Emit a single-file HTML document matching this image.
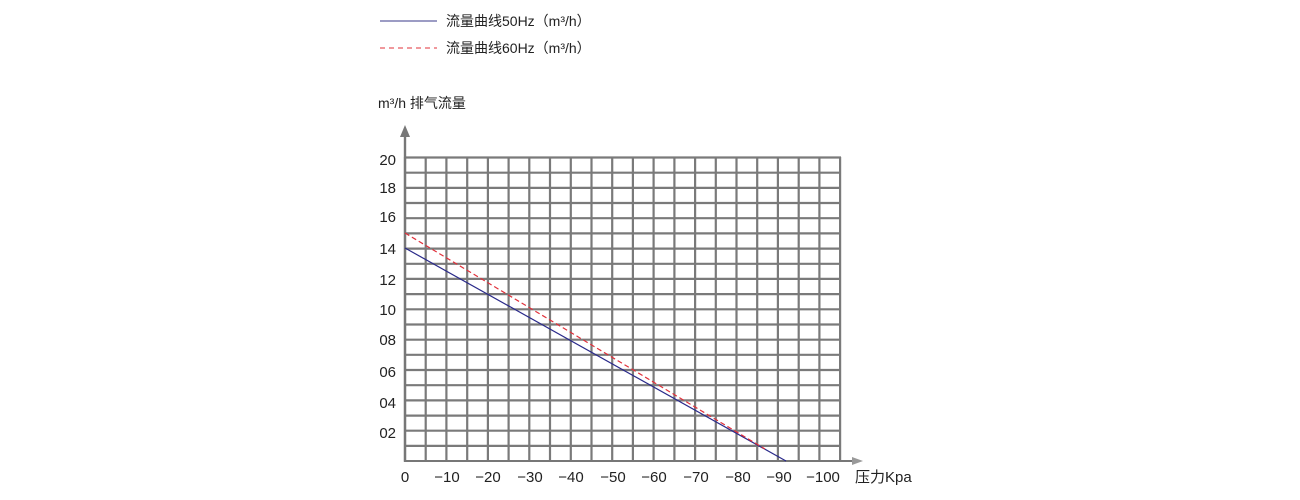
<!DOCTYPE html><html><head><meta charset="utf-8"><style>body{margin:0;background:#fff}svg{display:block}text{font-family:"Liberation Sans","Noto Sans CJK SC",sans-serif;fill:#222}</style></head><body>
<svg width="1300" height="500" viewBox="0 0 1300 500">
<line x1="380" y1="21" x2="437" y2="21" stroke="#3a3a8a" stroke-width="1"/>
<text x="446" y="26" font-size="14">流量曲线50Hz（m³/h）</text>
<line x1="380" y1="48" x2="437" y2="48" stroke="#e0303a" stroke-width="1" stroke-dasharray="5,4"/>
<text x="446" y="53" font-size="14">流量曲线60Hz（m³/h）</text>
<text x="378" y="108" font-size="14">m³/h 排气流量</text>
<g stroke="#7a7a7a" stroke-width="2.2">
<line x1="405" y1="157" x2="405" y2="461"/><line x1="425.7" y1="157" x2="425.7" y2="461"/><line x1="446.4" y1="157" x2="446.4" y2="461"/><line x1="467.2" y1="157" x2="467.2" y2="461"/><line x1="487.9" y1="157" x2="487.9" y2="461"/><line x1="508.6" y1="157" x2="508.6" y2="461"/><line x1="529.3" y1="157" x2="529.3" y2="461"/><line x1="550" y1="157" x2="550" y2="461"/><line x1="570.8" y1="157" x2="570.8" y2="461"/><line x1="591.5" y1="157" x2="591.5" y2="461"/><line x1="612.2" y1="157" x2="612.2" y2="461"/><line x1="632.9" y1="157" x2="632.9" y2="461"/><line x1="653.6" y1="157" x2="653.6" y2="461"/><line x1="674.4" y1="157" x2="674.4" y2="461"/><line x1="695.1" y1="157" x2="695.1" y2="461"/><line x1="715.8" y1="157" x2="715.8" y2="461"/><line x1="736.5" y1="157" x2="736.5" y2="461"/><line x1="757.2" y1="157" x2="757.2" y2="461"/><line x1="777.9" y1="157" x2="777.9" y2="461"/><line x1="798.7" y1="157" x2="798.7" y2="461"/><line x1="819.4" y1="157" x2="819.4" y2="461"/><line x1="840.1" y1="157" x2="840.1" y2="461"/>
<line x1="404" y1="157.5" x2="841" y2="157.5"/><line x1="404" y1="172.7" x2="841" y2="172.7"/><line x1="404" y1="187.9" x2="841" y2="187.9"/><line x1="404" y1="203" x2="841" y2="203"/><line x1="404" y1="218.2" x2="841" y2="218.2"/><line x1="404" y1="233.4" x2="841" y2="233.4"/><line x1="404" y1="248.6" x2="841" y2="248.6"/><line x1="404" y1="263.8" x2="841" y2="263.8"/><line x1="404" y1="278.9" x2="841" y2="278.9"/><line x1="404" y1="294.1" x2="841" y2="294.1"/><line x1="404" y1="309.3" x2="841" y2="309.3"/><line x1="404" y1="324.5" x2="841" y2="324.5"/><line x1="404" y1="339.7" x2="841" y2="339.7"/><line x1="404" y1="354.8" x2="841" y2="354.8"/><line x1="404" y1="370" x2="841" y2="370"/><line x1="404" y1="385.2" x2="841" y2="385.2"/><line x1="404" y1="400.4" x2="841" y2="400.4"/><line x1="404" y1="415.6" x2="841" y2="415.6"/><line x1="404" y1="430.7" x2="841" y2="430.7"/><line x1="404" y1="445.9" x2="841" y2="445.9"/>
</g>
<line x1="405" y1="135" x2="405" y2="462" stroke="#777" stroke-width="2.4"/>
<polygon points="405,125 400,137 410,137" fill="#777"/>
<line x1="404" y1="461" x2="855" y2="461" stroke="#777" stroke-width="2"/>
<polygon points="863,461 852,457 852,465" fill="#999"/>
<line x1="405" y1="248" x2="786" y2="461" stroke="#2a2a8a" stroke-width="1.2"/>
<line x1="405" y1="233" x2="765" y2="449" stroke="#e0303a" stroke-width="1.2" stroke-dasharray="5,3"/>
<g font-size="15" text-anchor="end">
<text x="396" y="165">20</text><text x="396" y="193">18</text><text x="396" y="222">16</text><text x="396" y="254">14</text><text x="396" y="285">12</text><text x="396" y="315">10</text><text x="396" y="345">08</text><text x="396" y="377">06</text><text x="396" y="408">04</text><text x="396" y="438">02</text>
</g>
<g font-size="15" text-anchor="middle">
<text x="405" y="482">0</text><text x="447" y="482">−10</text><text x="488" y="482">−20</text><text x="530" y="482">−30</text><text x="571" y="482">−40</text><text x="613" y="482">−50</text><text x="654" y="482">−60</text><text x="696" y="482">−70</text><text x="738" y="482">−80</text><text x="779" y="482">−90</text><text x="823" y="482">−100</text>
</g>
<text x="855" y="482" font-size="15">压力Kpa</text>
</svg></body></html>
